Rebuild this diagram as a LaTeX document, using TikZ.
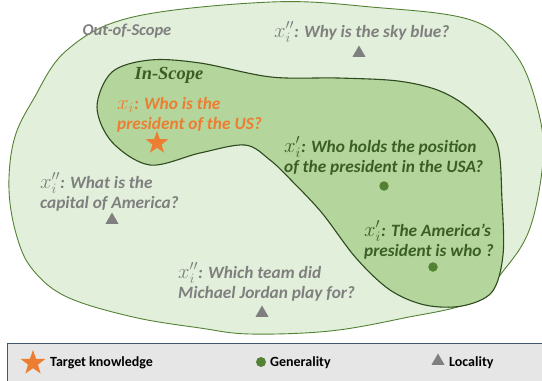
\documentclass[tikz,border=0pt]{standalone}
\usepackage{fontspec}
\setmainfont{Carlito}
\newfontfamily\scopefont{Liberation Serif}
\usetikzlibrary{shapes.geometric}
\definecolor{outerfill}{HTML}{E2EFDA}
\definecolor{outerline}{HTML}{548235}
\definecolor{innerfill}{HTML}{B4D69C}
\definecolor{innerline}{HTML}{2E4A1E}
\definecolor{txtgray}{HTML}{7F7F7F}
\definecolor{txtgreen}{HTML}{3B5E26}
\definecolor{orng}{HTML}{ED7D31}
\definecolor{dotgreen}{HTML}{548235}
\definecolor{legfill}{HTML}{E7E6E6}
\definecolor{legline}{HTML}{44546A}
\newcommand\qvar[1]{{\fontsize{20}{20}\selectfont$x#1_i$}}
\begin{document}
\begin{tikzpicture}[x=1pt,y=-1pt,
  qtext/.style={font=\bfseries\itshape\fontsize{17.3}{20}\selectfont, inner sep=0pt, align=left, anchor=west},
  legtext/.style={font=\bfseries\fontsize{14}{16}\selectfont, inner sep=0pt, anchor=west, text=black},
  tri/.style={regular polygon, regular polygon sides=3, fill=txtgray, inner sep=0pt, minimum size=15pt},
  gdot/.style={circle, fill=dotgreen, inner sep=0pt, minimum size=9.5pt},
  tstar/.style={star, star points=5, star point ratio=2.5, fill=orng, inner sep=0pt, minimum size=24pt}
]
\useasboundingbox (0,0) rectangle (542,381);
\clip (0,0) rectangle (542,381);
\fill[white] (0,0) rectangle (542,381);
% outer region
\draw[fill=outerfill, draw=outerline, line width=0.9pt]
  plot[smooth cycle, tension=0.6] coordinates {
  (271,2) (371,7) (471,20) (516,55) (538,110) (543,160) (530,228) (504,270) (471,302) (404,318) (330,331)
  (250,334) (200,328) (133,317) (67,297) (33,270) (17,237) (9,190) (14,140) (33,100) (67,50) (133,17)};
% inner region
\draw[fill=innerfill, draw=innerline, line width=1.1pt]
  plot[smooth cycle, tension=0.55] coordinates {
  (97,107) (112,72) (150,60) (200,63) (271,77) (338,78) (398,81) (440,91) (472,111) (497,143) (502,200)
  (503,255) (492,292) (462,306) (425,305) (390,290) (356,258) (322,213) (291,180) (270,160) (245,145)
  (200,153) (150,165) (112,142)};
% texts
\node[font=\bfseries\itshape\fontsize{16.5}{19}\selectfont, text=txtgray, inner sep=0pt] (oos) at (127,31) {Out-of-Scope};
\node[font=\scopefont\bfseries\itshape\fontsize{18.5}{20}\selectfont, text=txtgreen, inner sep=0pt] (ins) at (169,75) {In-Scope};
\node[qtext, text=orng] (xi) at (117,115) {\qvar{}: Who is the\\president of the US?};
\node[tstar] (star) at (157,143) {};
\node[qtext, text=txtgray] (sky) at (274,32) {\qvar{''}: Why is the sky blue?};
\node[tri] (tsky) at (359,53) {};
\node[qtext, text=txtgreen] (hold) at (284,156) {\qvar{'}: Who holds the position\\of the president in the USA?};
\node[gdot] (dhold) at (384,186) {};
\node[qtext, text=txtgreen] (amer) at (364,240) {\qvar{'}: The America's\\president is who ?};
\node[gdot] (damer) at (433,267) {};
\node[qtext, text=txtgray] (cap) at (40,192) {\qvar{''}: What is the\\capital of America?};
\node[tri] (tcap) at (112,220) {};
\node[qtext, text=txtgray] (mj) at (178,282) {\qvar{''}: Which team did\\Michael Jordan play for?};
\node[tri] (tmj) at (262,313) {};
% legend
\draw[fill=legfill, draw=legline, line width=0.9pt] (7,343) rectangle (560,395);
\node[tstar, minimum size=26pt] (lstar) at (33,363) {};
\node[legtext] (ltk) at (50,363) {Target knowledge};
\node[gdot, minimum size=10pt] (ldot) at (261,362) {};
\node[legtext] (lgen) at (270,363) {Generality};
\node[tri, minimum size=15pt] (ltri) at (438,361) {};
\node[legtext] (lloc) at (449,363) {Locality};
\end{tikzpicture}
\end{document}
